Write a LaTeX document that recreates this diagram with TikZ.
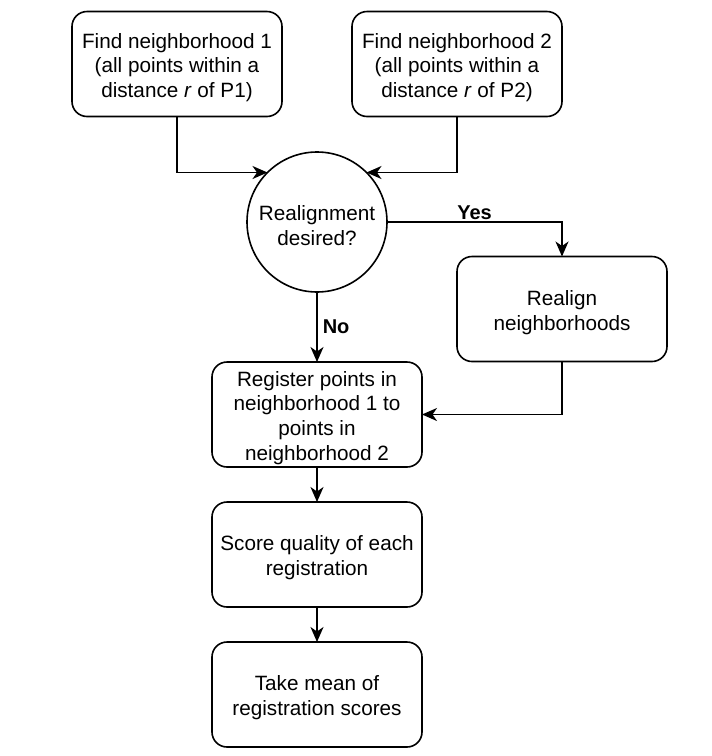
\documentclass[tikz,border=0pt]{standalone}
\usepackage{fontspec}
\setmainfont{Liberation Sans}
\usetikzlibrary{shapes.geometric, arrows.meta, positioning}
\newcommand{\lift}{\rule{0pt}{21.8pt}}
\tikzstyle{stage} = [rectangle, rounded corners=15pt, draw, line width=1.6pt, minimum width=210pt, minimum height=105pt, inner sep=1pt, outer sep=0pt, text centered]
\tikzstyle{decision} = [circle, draw, line width=1.6pt, minimum size=140pt, inner sep=0pt, outer sep=0pt, text centered]
\tikzstyle{flow} = [line width=1.6pt, -{Stealth[length=15pt, width=13pt, inset=4.5pt]}]
\tikzstyle{choice} = [font=\fontsize{20}{24}\selectfont\bfseries]

\begin{document}
\begin{tikzpicture}[x=1pt, y=-1pt, align=center, font=\fontsize{20.7}{24.6}\selectfont]
  \useasboundingbox (0,0) rectangle (712,756);
  \node (nbhdA) [stage] at (177,64) {\lift Find neighborhood 1\\(all points within a\\distance \textit{r} of P1)};
  \node (nbhdB) [stage, right=70pt of nbhdA] {\lift Find neighborhood 2\\(all points within a\\distance \textit{r} of P2)};
  \node (desired) [decision] at (317,222) {\lift Realignment\\desired?};
  \node (realign) [stage] at (562,309) {\lift Realign\\neighborhoods};
  \node (register) [stage, below=70pt of desired] {\lift Register points in\\neighborhood 1 to\\points in\\neighborhood 2};
  \node (score) [stage, below=35pt of register] {\lift Score quality of each\\registration};
  \node (mean) [stage, below=35pt of score] {\lift Take mean of\\registration scores};
  \draw [flow] (nbhdA.south) |- (desired.135);
  \draw [flow] (nbhdB.south) |- (desired.45);
  \draw [flow] (desired.east) -| (realign.north) node [choice, above, pos=0.25, inner sep=1.5pt] {Yes};
  \draw [flow] (desired.south) -- (register.north) node [choice, right, midway, inner sep=5pt] {No};
  \draw [flow] (realign.south) |- (register.east);
  \draw [flow] (register) -- (score);
  \draw [flow] (score) -- (mean);
\end{tikzpicture}
\end{document}
